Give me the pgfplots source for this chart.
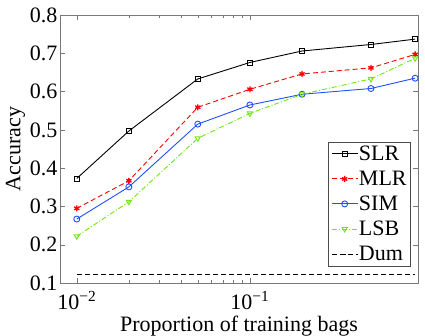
\documentclass[border=0pt]{standalone}
\usepackage{fontspec}
\setmainfont{Liberation Serif}
\usepackage{pgfplots}
\pgfplotsset{compat=1.18}

\definecolor{simblue}{RGB}{30,80,255}
\definecolor{lsbgreen}{RGB}{110,230,20}
\definecolor{framegray}{RGB}{120,120,120}

\begin{document}
\begin{tikzpicture}
\useasboundingbox (-60pt,-53pt) rectangle (365pt,283pt);
\begin{axis}[
    scale only axis,
    width=358pt, height=268pt,
    xmode=log,
    xmin=0.008, xmax=0.935,
    ymin=0.1, ymax=0.8,
    ytick={0.1,0.2,0.3,0.4,0.5,0.6,0.7,0.8},
    xtick={0.01,0.1},
    xticklabels={10\textsuperscript{−2}, 10\textsuperscript{−1}},
    yticklabel style={xshift=1pt, /pgf/number format/.cd, fixed, precision=1, fixed zerofill, assume math mode=true},
    font=\fontsize{22}{24}\selectfont,
    tick label style={font=\fontsize{22}{24}\selectfont, black},
    xticklabel style={yshift=-5pt},
    tick align=inside,
    major tick length=5pt,
    minor tick length=3pt,
    axis line style={framegray},
    every tick/.style={framegray},
    xlabel={Proportion of training bags},
    ylabel={Accuracy},
    xlabel style={yshift=0pt},
    ylabel style={yshift=-2pt},
    legend cell align=left,
    legend style={at={(0.98,0.063)}, anchor=south east, draw=black!70,
        font=\fontsize{22}{24}\selectfont, inner sep=3pt, row sep=7pt,
        nodes={inner sep=1pt}},
    legend image code/.code={\draw[mark repeat=2,mark phase=2] plot coordinates {(0cm,0cm) (0.45cm,0cm) (0.9cm,0cm)};},
]
\addplot[black, line width=0.9pt, mark=square, mark size=2.5pt, mark options={solid}]
coordinates {(0.01,0.373) (0.02,0.497) (0.05,0.633) (0.1,0.676) (0.2,0.706) (0.5,0.723) (0.9,0.737)};
\addlegendentry{SLR}
\addplot[red, dash pattern=on 5pt off 3pt, line width=0.9pt, mark=asterisk, mark size=3pt, mark options={solid, line width=1.3pt}]
coordinates {(0.01,0.295) (0.02,0.367) (0.05,0.559) (0.1,0.606) (0.2,0.646) (0.5,0.662) (0.9,0.697)};
\addlegendentry{MLR}
\addplot[simblue, line width=0.9pt, mark=o, mark size=3pt, mark options={solid}]
coordinates {(0.01,0.267) (0.02,0.351) (0.05,0.515) (0.1,0.565) (0.2,0.593) (0.5,0.608) (0.9,0.635)};
\addlegendentry{SIM}
\addplot[lsbgreen, dash pattern=on 5pt off 2pt on 1pt off 2pt, line width=0.9pt, mark=triangle, mark size=3pt, mark options={solid, rotate=180}]
coordinates {(0.01,0.222) (0.02,0.312) (0.05,0.478) (0.1,0.543) (0.2,0.593) (0.5,0.633) (0.9,0.687)};
\addlegendentry{LSB}
\addplot[black, dash pattern=on 5pt off 3pt, line width=0.9pt]
coordinates {(0.01,0.122) (0.9,0.122)};
\addlegendentry{Dum}
\end{axis}
\end{tikzpicture}
\end{document}
